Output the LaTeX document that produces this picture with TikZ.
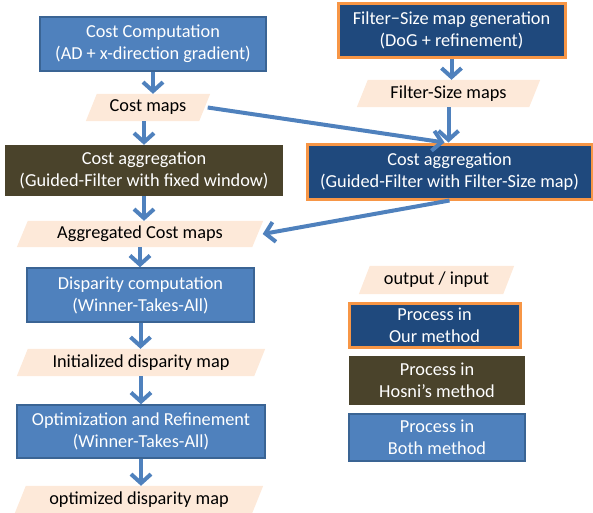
\documentclass[tikz,border=0pt]{standalone}
\usepackage{fontspec}
\setmainfont{Carlito}
\usetikzlibrary{arrows.meta,calc,backgrounds}
\definecolor{bothfill}{HTML}{4F81BD}
\definecolor{bothdraw}{HTML}{3A6494}
\definecolor{ourfill}{HTML}{1F497D}
\definecolor{ourdraw}{HTML}{F79646}
\definecolor{hosfill}{HTML}{4A432B}
\definecolor{iofill}{HTML}{FDE9D9}
\definecolor{arrowc}{HTML}{4F81BD}
\begin{document}
\begin{tikzpicture}[x=1pt,y=-1pt,
 every node/.style={font=\fontsize{18.3}{22}\selectfont, align=center, inner sep=0pt},
 both/.style={draw=bothdraw, line width=1.5pt, fill=bothfill, text=white},
 ours/.style={draw=ourdraw, line width=3pt, fill=ourfill, text=white},
 hosni/.style={fill=hosfill, text=white},
 io/.style={text=black},
 flow/.style={draw=arrowc, line width=4pt, -{Straight Barb[length=9pt,width=20pt]}}
]
\useasboundingbox (0,0) rectangle (593,512);

% left column
\node[both, minimum width=226pt, minimum height=54pt] (cc) at (153,44) {Cost Computation\\(AD + x-direction gradient)};
\node[io, minimum width=113pt, minimum height=27pt] (cm) at (148,107.5) {Cost maps};
\node[hosni, minimum width=278pt, minimum height=51pt] (ca1) at (144,170.5) {Cost aggregation\\(Guided-Filter with fixed window)};
\node[io, minimum width=235pt, minimum height=26pt] (acm) at (140,234) {Aggregated Cost maps};
\node[both, minimum width=227pt, minimum height=54pt] (dc) at (140.5,295) {Disparity computation\\(Winner-Takes-All)};
\node[io, minimum width=237pt, minimum height=27pt] (idm) at (141,362.5) {Initialized disparity map};
\node[both, minimum width=248pt, minimum height=53pt] (opt) at (141,431.5) {Optimization and Refinement\\(Winner-Takes-All)};
\node[io, minimum width=237pt, minimum height=27pt] (odm) at (139,499.5) {optimized disparity map};

% right column
\node[ours, minimum width=227pt, minimum height=54pt] (fs) at (451.5,30) {Filter\textminus Size map generation\\(DoG + refinement)};
\node[io, minimum width=172pt, minimum height=27pt] (fsm) at (448.5,93.5) {Filter-Size maps};
\node[ours, minimum width=285pt, minimum height=55pt] (ca2) at (449.5,171.5) {Cost aggregation\\(Guided-Filter with Filter-Size map)};

% legend
\node[io, minimum width=144pt, minimum height=28pt] (oi) at (436.5,280) {output / input};
\node[ours, minimum width=171pt, minimum height=44pt] (our) at (434.5,325) {Process in\\Our method};
\node[hosni, minimum width=176pt, minimum height=49pt] (hos) at (437,380.5) {Process in\\Hosni’s method};
\node[both, minimum width=176pt, minimum height=47pt] (bth) at (437,437.5) {Process in\\Both method};

\begin{scope}[on background layer]
\foreach \n in {cm,acm,idm,odm,fsm,oi}
  \fill[iofill] ($(\n.north west)+(5.5,0)$) -- ($(\n.north east)+(5.5,0)$) -- ($(\n.south east)+(-5.5,0)$) -- ($(\n.south west)+(-5.5,0)$) -- cycle;
\end{scope}

% connectors
\draw[flow] (cc.south) -- (cc.south |- cm.north);
\draw[flow] (ca1.north |- cm.south) -- (ca1.north);
\draw[flow] (ca1.south) -- (ca1.south |- acm.north);
\draw[flow] (acm.south) -- (acm.south |- dc.north);
\draw[flow] (dc.south) -- (dc.south |- idm.north);
\draw[flow] (idm.south) -- (idm.south |- opt.north);
\draw[flow] (opt.south) -- (opt.south |- odm.north);
\draw[flow] (fs.south) -- (fs.south |- fsm.north);
\draw[flow] (fsm.south) -- (fsm.south |- ca2.north);
\draw[flow] ($(cm.east)+(3,0)$) -- ($(ca2.north)+(-5,0)$);
\draw[flow] (ca2.south) -- ($(acm.east)+(5,0)$);
\end{tikzpicture}
\end{document}
